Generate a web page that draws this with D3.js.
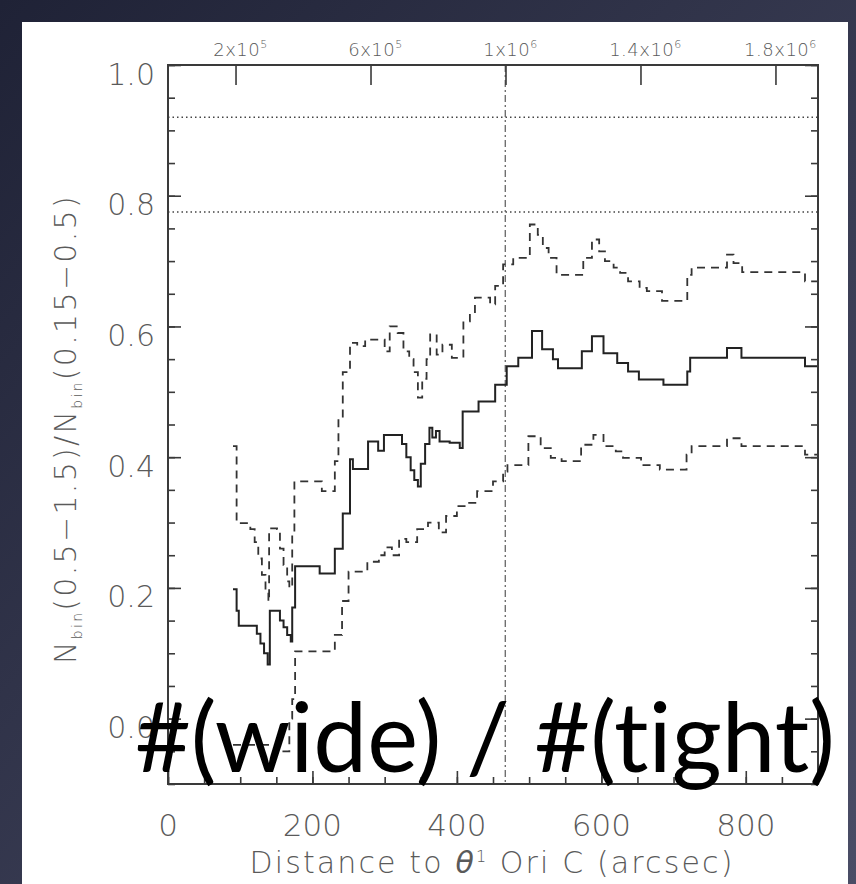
<!DOCTYPE html>
<html>
<head>
<meta charset="utf-8">
<script src="https://cdn.jsdelivr.net/npm/d3@7"></script>
<style>
  html, body { margin: 0; padding: 0; background: #2b2e45; }
  svg { display: block; }
</style>
</head>
<body>
<svg id="chart" width="856" height="884"></svg>
<script>
// ---------------- data ----------------
const yTicks = [0.0, 0.2, 0.4, 0.6, 0.8, 1.0];
const xTicks = [0, 200, 400, 600, 800];
const topTickArcsec = [93.5, 280.4, 467.3, 654.2, 841.1];
const topTickBase = ["2x10", "6x10", "1x10", "1.4x10", "1.8x10"];
const topTickExp = ["5", "5", "6", "6", "6"];
const refLevels = [0.92, 0.775];
const refDistance = 467;

// solid: ratio
const midX = [90, 95, 98, 123, 128, 133, 138, 141, 155, 160, 165, 170, 172, 176, 210, 231, 242, 252, 256, 277, 291, 299, 324, 330, 336, 341, 346, 350, 356, 362, 366, 371, 376, 390, 404, 408, 430, 453, 469, 485, 504, 518, 533, 540, 573, 587, 603, 622, 637, 652, 686, 719, 723, 774, 794, 882, 900];
const midY = [0.198, 0.165, 0.142, 0.13, 0.115, 0.10, 0.083, 0.165, 0.15, 0.14, 0.128, 0.118, 0.17, 0.233, 0.222, 0.26, 0.314, 0.397, 0.382, 0.424, 0.41, 0.434, 0.42, 0.40, 0.38, 0.365, 0.355, 0.39, 0.42, 0.445, 0.43, 0.44, 0.424, 0.422, 0.414, 0.47, 0.485, 0.511, 0.539, 0.552, 0.593, 0.565, 0.55, 0.536, 0.562, 0.585, 0.559, 0.544, 0.531, 0.519, 0.511, 0.531, 0.552, 0.567, 0.552, 0.539, 0.539];

// dashed: upper bound
const upX = [90, 95, 114, 120, 125, 130, 135, 139, 140, 151, 155, 160, 165, 168, 172, 175, 210, 213, 231, 236, 242, 252, 262, 273, 300, 307, 318, 326, 334, 340, 346, 352, 358, 363, 372, 380, 393, 409, 418, 425, 440, 446, 453, 464, 478, 501, 512, 519, 527, 538, 575, 587, 597, 605, 617, 626, 637, 653, 663, 684, 719, 725, 734, 774, 783, 795, 882, 900];
const upY = [0.417, 0.299, 0.29, 0.27, 0.245, 0.22, 0.195, 0.179, 0.291, 0.29, 0.26, 0.235, 0.21, 0.2, 0.286, 0.363, 0.363, 0.348, 0.394, 0.462, 0.53, 0.575, 0.57, 0.58, 0.562, 0.6, 0.59, 0.562, 0.55, 0.53, 0.491, 0.52, 0.55, 0.588, 0.557, 0.572, 0.552, 0.608, 0.62, 0.644, 0.644, 0.634, 0.662, 0.695, 0.705, 0.756, 0.74, 0.72, 0.705, 0.679, 0.705, 0.733, 0.715, 0.70, 0.69, 0.682, 0.669, 0.659, 0.654, 0.639, 0.679, 0.69, 0.69, 0.71, 0.697, 0.683, 0.669, 0.669];

// dashed: lower bound
const loX = [90, 150, 168, 172, 176, 231, 236, 241, 250, 276, 280, 292, 300, 310, 320, 330, 345, 360, 375, 385, 400, 415, 428, 450, 464, 470, 499, 516, 530, 545, 572, 589, 603, 620, 630, 655, 681, 718, 725, 774, 794, 882, 900];
const loY = [-0.04, -0.05, 0.0, 0.03, 0.103, 0.128, 0.128, 0.18, 0.225, 0.24, 0.24, 0.25, 0.262, 0.25, 0.275, 0.27, 0.29, 0.30, 0.285, 0.31, 0.325, 0.33, 0.348, 0.363, 0.378, 0.388, 0.432, 0.414, 0.399, 0.394, 0.419, 0.434, 0.417, 0.409, 0.399, 0.388, 0.381, 0.404, 0.417, 0.429, 0.417, 0.404, 0.404];

// ---------------- layout ----------------
const svg = d3.select("#chart");
const W = 856, H = 884;
const m = { left: 168, right: 818, top: 65, bottom: 784 };

// background slide
const defs = svg.append("defs");
const grad = defs.append("linearGradient").attr("id", "bg")
  .attr("x1", "0").attr("y1", "0").attr("x2", "1").attr("y2", "1");
grad.append("stop").attr("offset", "0").attr("stop-color", "#1f2236");
grad.append("stop").attr("offset", "1").attr("stop-color", "#4a4d66");
svg.append("rect").attr("width", W).attr("height", H).attr("fill", "url(#bg)");
svg.append("rect").attr("x", 22).attr("y", 22).attr("width", 826).attr("height", H - 22).attr("fill", "#ffffff");

const x = d3.scaleLinear().domain([0, 900]).range([m.left, m.right]);
const y = d3.scaleLinear().domain([-0.1, 1.0]).range([m.bottom, m.top]);

const axisColor = "#3a3a3a";
const labelColor = "#5a5a5a";
const fontFam = "'DejaVu Sans', sans-serif";

// fit a text's width to a target by letter-spacing
function fitWidth(sel, target) {
  const n = sel.text().length;
  const w = sel.node().getComputedTextLength();
  sel.attr("letter-spacing", Math.max(0, (target - w) / n));
}

// reference lines
const g = svg.append("g");
g.selectAll("line.ref").data(refLevels).join("line")
  .attr("x1", m.left).attr("x2", m.right)
  .attr("y1", d => y(d)).attr("y2", d => y(d))
  .attr("stroke", "#444").attr("stroke-width", 1.5).attr("stroke-dasharray", "1.5,3");
g.append("line")
  .attr("x1", x(refDistance)).attr("x2", x(refDistance))
  .attr("y1", m.top).attr("y2", m.bottom)
  .attr("stroke", "#666").attr("stroke-width", 1.3).attr("stroke-dasharray", "7,3,2,3");

// curves
const line = d3.line().x(d => x(d[0])).y(d => y(d[1])).curve(d3.curveStepAfter);
const zip = (a, b) => a.map((v, i) => [v, b[i]]);
g.append("path").datum(zip(upX, upY)).attr("d", line)
  .attr("fill", "none").attr("stroke", "#333").attr("stroke-width", 1.8).attr("stroke-dasharray", "8,6");
g.append("path").datum(zip(loX, loY)).attr("d", line)
  .attr("fill", "none").attr("stroke", "#333").attr("stroke-width", 1.8).attr("stroke-dasharray", "8,6");
g.append("path").datum(zip(midX, midY)).attr("d", line)
  .attr("fill", "none").attr("stroke", "#222").attr("stroke-width", 2);

// frame
svg.append("rect").attr("x", m.left).attr("y", m.top)
  .attr("width", m.right - m.left).attr("height", m.bottom - m.top)
  .attr("fill", "none").attr("stroke", axisColor).attr("stroke-width", 2);

// axes (ticks inward)
const yMinor = d3.range(-0.1, 1.0001, 0.05).map(v => +v.toFixed(2));
const xMinor = d3.range(0, 900.1, 50);
function drawAxis(axisGen, tx, ty) {
  const a = svg.append("g").attr("transform", `translate(${tx},${ty})`).call(axisGen);
  a.select(".domain").remove();
  a.selectAll("line").attr("stroke", axisColor).attr("stroke-width", 1.6);
  a.selectAll("text").remove();
  return a;
}
drawAxis(d3.axisRight(y).tickValues(yMinor).tickSize(7), m.left, 0);
drawAxis(d3.axisRight(y).tickValues(yTicks).tickSize(13), m.left, 0);
drawAxis(d3.axisLeft(y).tickValues(yMinor).tickSize(7), m.right, 0);
drawAxis(d3.axisLeft(y).tickValues(yTicks).tickSize(13), m.right, 0);
drawAxis(d3.axisTop(x).tickValues(xMinor).tickSize(7), 0, m.bottom);
drawAxis(d3.axisTop(x).tickValues(xTicks).tickSize(13), 0, m.bottom);
drawAxis(d3.axisBottom(x).tickValues(topTickArcsec).tickSize(20), 0, m.top);

// tick labels
svg.append("g").selectAll("text").data(yTicks).join("text")
  .attr("x", 155).attr("y", d => y(d) + 11)
  .attr("text-anchor", "end").attr("dominant-baseline", "middle")
  .attr("font-family", fontFam).attr("font-size", 30).attr("font-weight", 300)
  .attr("fill", labelColor).text(d => d.toFixed(1));

svg.append("g").selectAll("text").data(xTicks).join("text")
  .attr("x", d => x(d)).attr("y", 836)
  .attr("text-anchor", "middle")
  .attr("font-family", fontFam).attr("font-size", 31).attr("font-weight", 300)
  .attr("fill", labelColor).text(d => d);

const topLab = svg.append("g").selectAll("text").data(topTickArcsec).join("text")
  .attr("x", d => x(d) + 5).attr("y", 56)
  .attr("text-anchor", "middle")
  .attr("font-family", fontFam).attr("font-size", 18).attr("font-weight", 300)
  .attr("letter-spacing", 0.5)
  .attr("fill", labelColor);
topLab.append("tspan").text((d, i) => topTickBase[i]);
topLab.append("tspan").attr("dy", -8).attr("font-size", 11).text((d, i) => topTickExp[i]);

// axis titles
const xt = svg.append("text").attr("x", 492).attr("y", 873).attr("text-anchor", "middle")
  .attr("font-family", fontFam).attr("font-size", 30).attr("font-weight", 300).attr("fill", labelColor);
xt.append("tspan").text("Distance to ");
xt.append("tspan").attr("font-style", "italic").text("θ");
xt.append("tspan").attr("dy", -11).attr("font-size", 16).text("1");
xt.append("tspan").attr("dy", 11).text(" Ori C (arcsec)");
fitWidth(xt, 485);

const yt = svg.append("text").attr("transform", "translate(76,429) rotate(-90)")
  .attr("text-anchor", "middle")
  .attr("font-family", fontFam).attr("font-size", 30).attr("font-weight", 300).attr("fill", labelColor);
yt.append("tspan").text("N");
yt.append("tspan").attr("dy", 6).attr("font-size", 14).text("bin");
yt.append("tspan").attr("dy", -6).text("(0.5−1.5)/N");
yt.append("tspan").attr("dy", 6).attr("font-size", 14).text("bin");
yt.append("tspan").attr("dy", -6).text("(0.15−0.5)");
fitWidth(yt, 470);

// overlay slide text
const ov = svg.append("text").attr("x", 135).attr("y", 772)
  .attr("font-family", "Lato, 'Open Sans', sans-serif").attr("font-size", 90)
  .style("font-variant-ligatures", "none").attr("font-feature-settings", "'liga' 0")
  .style("font-feature-settings", "'liga' 0")
  .attr("fill", "#000").text("#(wide) / #(tight)");
const targetW = 700;
const w0 = ov.node().getComputedTextLength();
ov.attr("font-size", 90 * targetW / w0);
</script>
</body>
</html>
